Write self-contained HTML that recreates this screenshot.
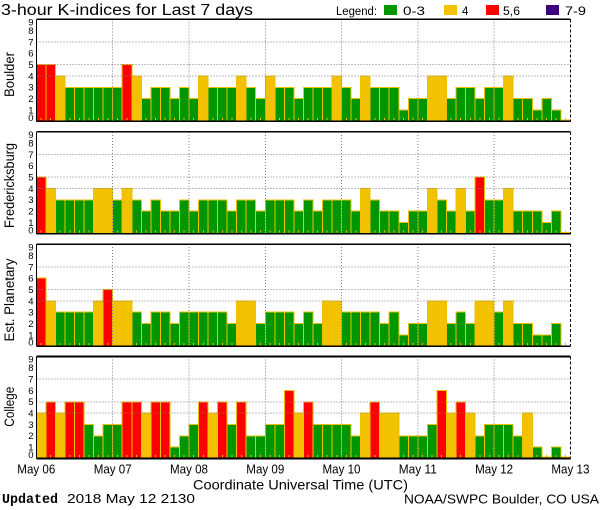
<!DOCTYPE html>
<html><head><meta charset="utf-8"><style>
html,body{margin:0;padding:0;background:#fff;}
svg{display:block;}
text{font-family:"Liberation Sans",sans-serif;fill:#000;}
.g{fill:#009600;stroke:#F0C000;stroke-width:1;}
.y{fill:#F2C200;stroke:#F0C000;stroke-width:1;}
.r{fill:#FF0000;stroke:#F0C000;stroke-width:1;}
.yl{font-size:9.5px;text-anchor:end;}
.pl{font-size:13.5px;text-anchor:middle;}
.xl{font-size:12.5px;text-anchor:middle;}
</style></head><body>
<svg width="600" height="510" viewBox="0 0 600 510" xmlns="http://www.w3.org/2000/svg">
<defs>
<path id="ticks" d="M41.17 -3.3v2M50.71 -3.3v2M60.24 -3.3v2M69.78 -3.3v2M79.31 -3.3v2M88.85 -3.3v2M98.38 -3.3v2M107.92 -3.3v2M117.46 -3.3v2M126.99 -3.3v2M136.53 -3.3v2M146.06 -3.3v2M155.6 -3.3v2M165.13 -3.3v2M174.67 -3.3v2M184.21 -3.3v2M193.74 -3.3v2M203.28 -3.3v2M212.81 -3.3v2M222.35 -3.3v2M231.88 -3.3v2M241.42 -3.3v2M250.96 -3.3v2M260.49 -3.3v2M270.03 -3.3v2M279.56 -3.3v2M289.1 -3.3v2M298.63 -3.3v2M308.17 -3.3v2M317.71 -3.3v2M327.24 -3.3v2M336.78 -3.3v2M346.31 -3.3v2M355.85 -3.3v2M365.38 -3.3v2M374.92 -3.3v2M384.46 -3.3v2M393.99 -3.3v2M403.53 -3.3v2M413.06 -3.3v2M422.6 -3.3v2M432.13 -3.3v2M441.67 -3.3v2M451.21 -3.3v2M460.74 -3.3v2M470.28 -3.3v2M479.81 -3.3v2M489.35 -3.3v2M498.88 -3.3v2M508.42 -3.3v2M517.96 -3.3v2M527.49 -3.3v2M537.03 -3.3v2M546.56 -3.3v2M556.1 -3.3v2M565.63 -3.3v2" stroke="#F0C000" stroke-width="1" fill="none"/>
<g id="grid" stroke="#808080" stroke-width="1" stroke-dasharray="1 2" fill="none">
<path d="M36.4 -45.33H570.4M36.4 -56.67H570.4M36.4 -79.33H570.4"/>
<path d="M112.69 -102V0M188.97 -102V0M265.26 -102V0M341.54 -102V0M417.83 -102V0M494.11 -102V0"/>
</g>
<g id="frame" fill="none" stroke="#000">
<path d="M36.4 -102H570.4M36.4 0H570.4" stroke-width="1.6"/>
<path d="M36.4 -102V0" stroke-width="1.2"/>
<path d="M570.4 -102V0" stroke-width="1.2" stroke-dasharray="3 2"/>
</g>
<g id="ylab">
<text class="yl" x="33.5" y="-0.5">0</text>
<text class="yl" x="33.5" y="-7.93">1</text>
<text class="yl" x="33.5" y="-19.27">2</text>
<text class="yl" x="33.5" y="-30.6">3</text>
<text class="yl" x="33.5" y="-41.93">4</text>
<text class="yl" x="33.5" y="-53.27">5</text>
<text class="yl" x="33.5" y="-64.6">6</text>
<text class="yl" x="33.5" y="-75.93">7</text>
<text class="yl" x="33.5" y="-87.27">8</text>
<text class="yl" x="33.5" y="-95.8">9</text>
</g>
</defs>

<!-- Title & legend -->
<text x="1" y="15.2" font-size="15.5" textLength="252" lengthAdjust="spacingAndGlyphs">3-hour K-indices for Last 7 days</text>
<text x="336" y="14.8" font-size="11.5" textLength="41" lengthAdjust="spacingAndGlyphs">Legend:</text>
<rect x="384" y="5" width="13" height="10" fill="#009600"/>
<text x="403" y="14.8" font-size="11.5" textLength="22" lengthAdjust="spacingAndGlyphs">0-3</text>
<rect x="444" y="5" width="13" height="10" fill="#F2C200"/>
<text x="462" y="14.8" font-size="11.5">4</text>
<rect x="486" y="5" width="13" height="10" fill="#FF0000"/>
<text x="503" y="14.8" font-size="11.5" textLength="17" lengthAdjust="spacingAndGlyphs">5,6</text>
<rect x="546" y="5" width="13" height="10" fill="#3F007F"/>
<text x="565" y="14.8" font-size="11.5" textLength="21" lengthAdjust="spacingAndGlyphs">7-9</text>

<!-- Panel 1: Boulder -->
<g transform="translate(0,121.3)" shape-rendering="crispEdges">
<rect class="r" x="36.4" y="-56.67" width="9.54" height="56.67"/>
<rect class="r" x="45.94" y="-56.67" width="9.54" height="56.67"/>
<rect class="y" x="55.47" y="-45.33" width="9.54" height="45.33"/>
<rect class="g" x="65.01" y="-34" width="9.54" height="34"/>
<rect class="g" x="74.54" y="-34" width="9.54" height="34"/>
<rect class="g" x="84.08" y="-34" width="9.54" height="34"/>
<rect class="g" x="93.61" y="-34" width="9.54" height="34"/>
<rect class="g" x="103.15" y="-34" width="9.54" height="34"/>
<rect class="g" x="112.69" y="-34" width="9.54" height="34"/>
<rect class="r" x="122.22" y="-56.67" width="9.54" height="56.67"/>
<rect class="y" x="131.76" y="-45.33" width="9.54" height="45.33"/>
<rect class="g" x="141.29" y="-22.67" width="9.54" height="22.67"/>
<rect class="g" x="150.83" y="-34" width="9.54" height="34"/>
<rect class="g" x="160.36" y="-34" width="9.54" height="34"/>
<rect class="g" x="169.9" y="-22.67" width="9.54" height="22.67"/>
<rect class="g" x="179.44" y="-34" width="9.54" height="34"/>
<rect class="g" x="188.97" y="-22.67" width="9.54" height="22.67"/>
<rect class="y" x="198.51" y="-45.33" width="9.54" height="45.33"/>
<rect class="g" x="208.04" y="-34" width="9.54" height="34"/>
<rect class="g" x="217.58" y="-34" width="9.54" height="34"/>
<rect class="g" x="227.11" y="-34" width="9.54" height="34"/>
<rect class="y" x="236.65" y="-45.33" width="9.54" height="45.33"/>
<rect class="g" x="246.19" y="-34" width="9.54" height="34"/>
<rect class="g" x="255.72" y="-22.67" width="9.54" height="22.67"/>
<rect class="y" x="265.26" y="-45.33" width="9.54" height="45.33"/>
<rect class="g" x="274.79" y="-34" width="9.54" height="34"/>
<rect class="g" x="284.33" y="-34" width="9.54" height="34"/>
<rect class="g" x="293.86" y="-22.67" width="9.54" height="22.67"/>
<rect class="g" x="303.4" y="-34" width="9.54" height="34"/>
<rect class="g" x="312.94" y="-34" width="9.54" height="34"/>
<rect class="g" x="322.47" y="-34" width="9.54" height="34"/>
<rect class="y" x="332.01" y="-45.33" width="9.54" height="45.33"/>
<rect class="g" x="341.54" y="-34" width="9.54" height="34"/>
<rect class="g" x="351.08" y="-22.67" width="9.54" height="22.67"/>
<rect class="y" x="360.61" y="-45.33" width="9.54" height="45.33"/>
<rect class="g" x="370.15" y="-34" width="9.54" height="34"/>
<rect class="g" x="379.69" y="-34" width="9.54" height="34"/>
<rect class="g" x="389.22" y="-34" width="9.54" height="34"/>
<rect class="g" x="398.76" y="-11.33" width="9.54" height="11.33"/>
<rect class="g" x="408.29" y="-22.67" width="9.54" height="22.67"/>
<rect class="g" x="417.83" y="-22.67" width="9.54" height="22.67"/>
<rect class="y" x="427.36" y="-45.33" width="9.54" height="45.33"/>
<rect class="y" x="436.9" y="-45.33" width="9.54" height="45.33"/>
<rect class="g" x="446.44" y="-22.67" width="9.54" height="22.67"/>
<rect class="g" x="455.97" y="-34" width="9.54" height="34"/>
<rect class="g" x="465.51" y="-34" width="9.54" height="34"/>
<rect class="g" x="475.04" y="-22.67" width="9.54" height="22.67"/>
<rect class="g" x="484.58" y="-34" width="9.54" height="34"/>
<rect class="g" x="494.11" y="-34" width="9.54" height="34"/>
<rect class="y" x="503.65" y="-45.33" width="9.54" height="45.33"/>
<rect class="g" x="513.19" y="-22.67" width="9.54" height="22.67"/>
<rect class="g" x="522.72" y="-22.67" width="9.54" height="22.67"/>
<rect class="g" x="532.26" y="-11.33" width="9.54" height="11.33"/>
<rect class="g" x="541.79" y="-22.67" width="9.54" height="22.67"/>
<rect class="g" x="551.33" y="-11.33" width="9.54" height="11.33"/>
<rect class="g" x="560.86" y="-1.5" width="9.54" height="1.5"/>
<use href="#ticks"/><use href="#grid"/><use href="#frame"/>
</g>
<g transform="translate(0,121.3)"><use href="#ylab"/>
<text class="pl" transform="translate(14,-46.8) rotate(-90)" textLength="45" lengthAdjust="spacingAndGlyphs">Boulder</text></g>

<!-- Panel 2: Fredericksburg -->
<g transform="translate(0,233.8)" shape-rendering="crispEdges">
<rect class="r" x="36.4" y="-56.67" width="9.54" height="56.67"/>
<rect class="y" x="45.94" y="-45.33" width="9.54" height="45.33"/>
<rect class="g" x="55.47" y="-34" width="9.54" height="34"/>
<rect class="g" x="65.01" y="-34" width="9.54" height="34"/>
<rect class="g" x="74.54" y="-34" width="9.54" height="34"/>
<rect class="g" x="84.08" y="-34" width="9.54" height="34"/>
<rect class="y" x="93.61" y="-45.33" width="9.54" height="45.33"/>
<rect class="y" x="103.15" y="-45.33" width="9.54" height="45.33"/>
<rect class="g" x="112.69" y="-34" width="9.54" height="34"/>
<rect class="y" x="122.22" y="-45.33" width="9.54" height="45.33"/>
<rect class="g" x="131.76" y="-34" width="9.54" height="34"/>
<rect class="g" x="141.29" y="-22.67" width="9.54" height="22.67"/>
<rect class="g" x="150.83" y="-34" width="9.54" height="34"/>
<rect class="g" x="160.36" y="-22.67" width="9.54" height="22.67"/>
<rect class="g" x="169.9" y="-22.67" width="9.54" height="22.67"/>
<rect class="g" x="179.44" y="-34" width="9.54" height="34"/>
<rect class="g" x="188.97" y="-22.67" width="9.54" height="22.67"/>
<rect class="g" x="198.51" y="-34" width="9.54" height="34"/>
<rect class="g" x="208.04" y="-34" width="9.54" height="34"/>
<rect class="g" x="217.58" y="-34" width="9.54" height="34"/>
<rect class="g" x="227.11" y="-22.67" width="9.54" height="22.67"/>
<rect class="g" x="236.65" y="-34" width="9.54" height="34"/>
<rect class="g" x="246.19" y="-34" width="9.54" height="34"/>
<rect class="g" x="255.72" y="-22.67" width="9.54" height="22.67"/>
<rect class="g" x="265.26" y="-34" width="9.54" height="34"/>
<rect class="g" x="274.79" y="-34" width="9.54" height="34"/>
<rect class="g" x="284.33" y="-34" width="9.54" height="34"/>
<rect class="g" x="293.86" y="-22.67" width="9.54" height="22.67"/>
<rect class="g" x="303.4" y="-34" width="9.54" height="34"/>
<rect class="g" x="312.94" y="-22.67" width="9.54" height="22.67"/>
<rect class="g" x="322.47" y="-34" width="9.54" height="34"/>
<rect class="g" x="332.01" y="-34" width="9.54" height="34"/>
<rect class="g" x="341.54" y="-34" width="9.54" height="34"/>
<rect class="g" x="351.08" y="-22.67" width="9.54" height="22.67"/>
<rect class="y" x="360.61" y="-45.33" width="9.54" height="45.33"/>
<rect class="g" x="370.15" y="-34" width="9.54" height="34"/>
<rect class="g" x="379.69" y="-22.67" width="9.54" height="22.67"/>
<rect class="g" x="389.22" y="-22.67" width="9.54" height="22.67"/>
<rect class="g" x="398.76" y="-11.33" width="9.54" height="11.33"/>
<rect class="g" x="408.29" y="-22.67" width="9.54" height="22.67"/>
<rect class="g" x="417.83" y="-22.67" width="9.54" height="22.67"/>
<rect class="y" x="427.36" y="-45.33" width="9.54" height="45.33"/>
<rect class="g" x="436.9" y="-34" width="9.54" height="34"/>
<rect class="g" x="446.44" y="-22.67" width="9.54" height="22.67"/>
<rect class="y" x="455.97" y="-45.33" width="9.54" height="45.33"/>
<rect class="g" x="465.51" y="-22.67" width="9.54" height="22.67"/>
<rect class="r" x="475.04" y="-56.67" width="9.54" height="56.67"/>
<rect class="g" x="484.58" y="-34" width="9.54" height="34"/>
<rect class="g" x="494.11" y="-34" width="9.54" height="34"/>
<rect class="y" x="503.65" y="-45.33" width="9.54" height="45.33"/>
<rect class="g" x="513.19" y="-22.67" width="9.54" height="22.67"/>
<rect class="g" x="522.72" y="-22.67" width="9.54" height="22.67"/>
<rect class="g" x="532.26" y="-22.67" width="9.54" height="22.67"/>
<rect class="g" x="541.79" y="-11.33" width="9.54" height="11.33"/>
<rect class="g" x="551.33" y="-22.67" width="9.54" height="22.67"/>
<rect class="g" x="560.86" y="-1.5" width="9.54" height="1.5"/>
<use href="#ticks"/><use href="#grid"/><use href="#frame"/>
</g>
<g transform="translate(0,233.8)"><use href="#ylab"/>
<text class="pl" transform="translate(14,-48.3) rotate(-90)" textLength="85" lengthAdjust="spacingAndGlyphs">Fredericksburg</text></g>

<!-- Panel 3: Est. Planetary -->
<g transform="translate(0,346.2)" shape-rendering="crispEdges">
<rect class="r" x="36.4" y="-68" width="9.54" height="68"/>
<rect class="y" x="45.94" y="-45.33" width="9.54" height="45.33"/>
<rect class="g" x="55.47" y="-34" width="9.54" height="34"/>
<rect class="g" x="65.01" y="-34" width="9.54" height="34"/>
<rect class="g" x="74.54" y="-34" width="9.54" height="34"/>
<rect class="g" x="84.08" y="-34" width="9.54" height="34"/>
<rect class="y" x="93.61" y="-45.33" width="9.54" height="45.33"/>
<rect class="r" x="103.15" y="-56.67" width="9.54" height="56.67"/>
<rect class="y" x="112.69" y="-45.33" width="9.54" height="45.33"/>
<rect class="y" x="122.22" y="-45.33" width="9.54" height="45.33"/>
<rect class="g" x="131.76" y="-34" width="9.54" height="34"/>
<rect class="g" x="141.29" y="-22.67" width="9.54" height="22.67"/>
<rect class="g" x="150.83" y="-34" width="9.54" height="34"/>
<rect class="g" x="160.36" y="-34" width="9.54" height="34"/>
<rect class="g" x="169.9" y="-22.67" width="9.54" height="22.67"/>
<rect class="g" x="179.44" y="-34" width="9.54" height="34"/>
<rect class="g" x="188.97" y="-34" width="9.54" height="34"/>
<rect class="g" x="198.51" y="-34" width="9.54" height="34"/>
<rect class="g" x="208.04" y="-34" width="9.54" height="34"/>
<rect class="g" x="217.58" y="-34" width="9.54" height="34"/>
<rect class="g" x="227.11" y="-22.67" width="9.54" height="22.67"/>
<rect class="y" x="236.65" y="-45.33" width="9.54" height="45.33"/>
<rect class="y" x="246.19" y="-45.33" width="9.54" height="45.33"/>
<rect class="g" x="255.72" y="-22.67" width="9.54" height="22.67"/>
<rect class="g" x="265.26" y="-34" width="9.54" height="34"/>
<rect class="g" x="274.79" y="-34" width="9.54" height="34"/>
<rect class="g" x="284.33" y="-34" width="9.54" height="34"/>
<rect class="g" x="293.86" y="-22.67" width="9.54" height="22.67"/>
<rect class="g" x="303.4" y="-34" width="9.54" height="34"/>
<rect class="g" x="312.94" y="-22.67" width="9.54" height="22.67"/>
<rect class="y" x="322.47" y="-45.33" width="9.54" height="45.33"/>
<rect class="y" x="332.01" y="-45.33" width="9.54" height="45.33"/>
<rect class="g" x="341.54" y="-34" width="9.54" height="34"/>
<rect class="g" x="351.08" y="-34" width="9.54" height="34"/>
<rect class="g" x="360.61" y="-34" width="9.54" height="34"/>
<rect class="g" x="370.15" y="-34" width="9.54" height="34"/>
<rect class="g" x="379.69" y="-22.67" width="9.54" height="22.67"/>
<rect class="g" x="389.22" y="-34" width="9.54" height="34"/>
<rect class="g" x="398.76" y="-11.33" width="9.54" height="11.33"/>
<rect class="g" x="408.29" y="-22.67" width="9.54" height="22.67"/>
<rect class="g" x="417.83" y="-22.67" width="9.54" height="22.67"/>
<rect class="y" x="427.36" y="-45.33" width="9.54" height="45.33"/>
<rect class="y" x="436.9" y="-45.33" width="9.54" height="45.33"/>
<rect class="g" x="446.44" y="-22.67" width="9.54" height="22.67"/>
<rect class="g" x="455.97" y="-34" width="9.54" height="34"/>
<rect class="g" x="465.51" y="-22.67" width="9.54" height="22.67"/>
<rect class="y" x="475.04" y="-45.33" width="9.54" height="45.33"/>
<rect class="y" x="484.58" y="-45.33" width="9.54" height="45.33"/>
<rect class="g" x="494.11" y="-34" width="9.54" height="34"/>
<rect class="y" x="503.65" y="-45.33" width="9.54" height="45.33"/>
<rect class="g" x="513.19" y="-22.67" width="9.54" height="22.67"/>
<rect class="g" x="522.72" y="-22.67" width="9.54" height="22.67"/>
<rect class="g" x="532.26" y="-11.33" width="9.54" height="11.33"/>
<rect class="g" x="541.79" y="-11.33" width="9.54" height="11.33"/>
<rect class="g" x="551.33" y="-22.67" width="9.54" height="22.67"/>
<use href="#ticks"/><use href="#grid"/><use href="#frame"/>
</g>
<g transform="translate(0,346.2)"><use href="#ylab"/>
<text class="pl" transform="translate(14,-46.2) rotate(-90)" textLength="83" lengthAdjust="spacingAndGlyphs">Est. Planetary</text></g>

<!-- Panel 4: College -->
<g transform="translate(0,458.5)" shape-rendering="crispEdges">
<rect class="y" x="36.4" y="-45.33" width="9.54" height="45.33"/>
<rect class="r" x="45.94" y="-56.67" width="9.54" height="56.67"/>
<rect class="y" x="55.47" y="-45.33" width="9.54" height="45.33"/>
<rect class="r" x="65.01" y="-56.67" width="9.54" height="56.67"/>
<rect class="r" x="74.54" y="-56.67" width="9.54" height="56.67"/>
<rect class="g" x="84.08" y="-34" width="9.54" height="34"/>
<rect class="g" x="93.61" y="-22.67" width="9.54" height="22.67"/>
<rect class="g" x="103.15" y="-34" width="9.54" height="34"/>
<rect class="g" x="112.69" y="-34" width="9.54" height="34"/>
<rect class="r" x="122.22" y="-56.67" width="9.54" height="56.67"/>
<rect class="r" x="131.76" y="-56.67" width="9.54" height="56.67"/>
<rect class="y" x="141.29" y="-45.33" width="9.54" height="45.33"/>
<rect class="r" x="150.83" y="-56.67" width="9.54" height="56.67"/>
<rect class="r" x="160.36" y="-56.67" width="9.54" height="56.67"/>
<rect class="g" x="169.9" y="-11.33" width="9.54" height="11.33"/>
<rect class="g" x="179.44" y="-22.67" width="9.54" height="22.67"/>
<rect class="g" x="188.97" y="-34" width="9.54" height="34"/>
<rect class="r" x="198.51" y="-56.67" width="9.54" height="56.67"/>
<rect class="y" x="208.04" y="-45.33" width="9.54" height="45.33"/>
<rect class="r" x="217.58" y="-56.67" width="9.54" height="56.67"/>
<rect class="g" x="227.11" y="-34" width="9.54" height="34"/>
<rect class="r" x="236.65" y="-56.67" width="9.54" height="56.67"/>
<rect class="g" x="246.19" y="-22.67" width="9.54" height="22.67"/>
<rect class="g" x="255.72" y="-22.67" width="9.54" height="22.67"/>
<rect class="g" x="265.26" y="-34" width="9.54" height="34"/>
<rect class="g" x="274.79" y="-34" width="9.54" height="34"/>
<rect class="r" x="284.33" y="-68" width="9.54" height="68"/>
<rect class="y" x="293.86" y="-45.33" width="9.54" height="45.33"/>
<rect class="r" x="303.4" y="-56.67" width="9.54" height="56.67"/>
<rect class="g" x="312.94" y="-34" width="9.54" height="34"/>
<rect class="g" x="322.47" y="-34" width="9.54" height="34"/>
<rect class="g" x="332.01" y="-34" width="9.54" height="34"/>
<rect class="g" x="341.54" y="-34" width="9.54" height="34"/>
<rect class="g" x="351.08" y="-22.67" width="9.54" height="22.67"/>
<rect class="y" x="360.61" y="-45.33" width="9.54" height="45.33"/>
<rect class="r" x="370.15" y="-56.67" width="9.54" height="56.67"/>
<rect class="y" x="379.69" y="-45.33" width="9.54" height="45.33"/>
<rect class="y" x="389.22" y="-45.33" width="9.54" height="45.33"/>
<rect class="g" x="398.76" y="-22.67" width="9.54" height="22.67"/>
<rect class="g" x="408.29" y="-22.67" width="9.54" height="22.67"/>
<rect class="g" x="417.83" y="-22.67" width="9.54" height="22.67"/>
<rect class="g" x="427.36" y="-34" width="9.54" height="34"/>
<rect class="r" x="436.9" y="-68" width="9.54" height="68"/>
<rect class="y" x="446.44" y="-45.33" width="9.54" height="45.33"/>
<rect class="r" x="455.97" y="-56.67" width="9.54" height="56.67"/>
<rect class="y" x="465.51" y="-45.33" width="9.54" height="45.33"/>
<rect class="g" x="475.04" y="-22.67" width="9.54" height="22.67"/>
<rect class="g" x="484.58" y="-34" width="9.54" height="34"/>
<rect class="g" x="494.11" y="-34" width="9.54" height="34"/>
<rect class="g" x="503.65" y="-34" width="9.54" height="34"/>
<rect class="g" x="513.19" y="-22.67" width="9.54" height="22.67"/>
<rect class="y" x="522.72" y="-45.33" width="9.54" height="45.33"/>
<rect class="g" x="532.26" y="-11.33" width="9.54" height="11.33"/>
<rect class="g" x="541.79" y="-1.5" width="9.54" height="1.5"/>
<rect class="g" x="551.33" y="-11.33" width="9.54" height="11.33"/>
<rect class="g" x="560.86" y="-1.5" width="9.54" height="1.5"/>
<use href="#ticks"/><use href="#grid"/><use href="#frame"/>
</g>
<g transform="translate(0,458.5)"><use href="#ylab"/>
<text class="pl" transform="translate(14,-51.8) rotate(-90)" textLength="40" lengthAdjust="spacingAndGlyphs">College</text></g>

<!-- X axis labels -->
<text class="xl" x="36.3" y="473.5" textLength="38" lengthAdjust="spacingAndGlyphs">May 06</text>
<text class="xl" x="112.7" y="473.5" textLength="38" lengthAdjust="spacingAndGlyphs">May 07</text>
<text class="xl" x="189" y="473.5" textLength="38" lengthAdjust="spacingAndGlyphs">May 08</text>
<text class="xl" x="265.3" y="473.5" textLength="38" lengthAdjust="spacingAndGlyphs">May 09</text>
<text class="xl" x="341.5" y="473.5" textLength="38" lengthAdjust="spacingAndGlyphs">May 10</text>
<text class="xl" x="417.8" y="473.5" textLength="38" lengthAdjust="spacingAndGlyphs">May 11</text>
<text class="xl" x="494.1" y="473.5" textLength="38" lengthAdjust="spacingAndGlyphs">May 12</text>
<text class="xl" x="570.4" y="473.5" textLength="38" lengthAdjust="spacingAndGlyphs">May 13</text>
<text x="193" y="489.5" font-size="14" textLength="215" lengthAdjust="spacingAndGlyphs">Coordinate Universal Time (UTC)</text>

<!-- Footer -->
<text x="2" y="503" style="font-family:'Liberation Mono',monospace;font-weight:bold;" font-size="13.5" textLength="56" lengthAdjust="spacingAndGlyphs">Updated</text>
<text x="67" y="503" font-size="13" textLength="128" lengthAdjust="spacingAndGlyphs">2018 May 12 2130</text>
<text x="404" y="503.5" font-size="13" textLength="195" lengthAdjust="spacingAndGlyphs">NOAA/SWPC Boulder, CO USA</text>
</svg>
</body></html>
